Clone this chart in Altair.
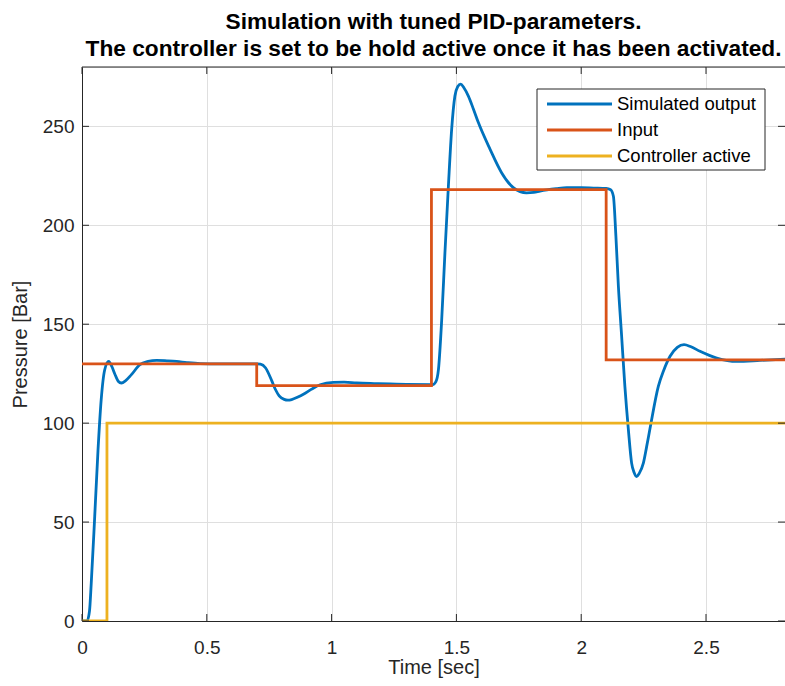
import altair as alt
import pandas as pd

# Simulated plant output (time in s, pressure in bar)
out_t = [0, 0.02, 0.03, 0.037, 0.051, 0.064, 0.077, 0.091, 0.107, 0.12, 0.131, 0.145,
         0.158, 0.175, 0.198, 0.232, 0.265, 0.299, 0.34, 0.379, 0.42, 0.473, 0.55, 0.70,
         0.715, 0.735, 0.76, 0.775, 0.79, 0.81, 0.825, 0.84, 0.865, 0.887, 0.92, 0.954,
         1.007, 1.05, 1.10, 1.17, 1.234, 1.30, 1.405, 1.418, 1.428, 1.441, 1.454, 1.468,
         1.481, 1.494, 1.505, 1.517, 1.53, 1.548, 1.568, 1.588, 1.635, 1.681, 1.728, 1.755,
         1.781, 1.81, 1.835, 1.90, 1.942, 2.0, 2.05, 2.10, 2.118, 2.129, 2.139, 2.149,
         2.162, 2.175, 2.189, 2.202, 2.212, 2.222, 2.232, 2.249, 2.262, 2.276, 2.309, 2.33,
         2.356, 2.385, 2.412, 2.44, 2.476, 2.543, 2.623, 2.716, 2.82]
out_v = [0, 0, 5, 19, 53, 86, 112, 127, 131.2, 128.5, 125, 121.2,
         120.3, 121.5, 124.5, 129.6, 131.2, 131.7, 131.5, 131.2, 130.6, 130.1, 130, 130,
         129.8, 128, 121.5, 117, 113.8, 112, 111.6, 111.9, 113.2, 114.6, 117.2, 119.4,
         120.6, 120.7, 120.3, 120, 119.8, 119.6, 119.5, 121, 127, 152, 186, 220,
         248.5, 265.3, 270, 271.3, 269.5, 265.3, 258.8, 251.9, 238.4, 226.6, 219, 217,
         216.4, 216.6, 217.3, 218.5, 219, 219, 218.8, 218.6, 218, 214.7, 194.5, 169.2,
         143.9, 118.6, 96.7, 79.8, 75, 73, 74.5, 79.8, 88, 97.5, 118.6, 126.5,
         133.8, 138.3, 139.7, 138.6, 136.3, 132.9, 131.2, 131.7, 132.4]

# Reference input (piecewise constant)
in_t = [0, 0.7, 1.4, 2.1, 2.82]
in_v = [130, 119, 218, 132, 132]

# Controller-active flag (scaled to 100)
ctl_t = [0, 0.1, 2.82]
ctl_v = [0, 100, 100]

series_names = ["Simulated output", "Input", "Controller active"]
series_colors = ["#0072BD", "#D95319", "#EDB120"]

x_ticks = [0, 0.5, 1, 1.5, 2, 2.5]
y_ticks = [0, 50, 100, 150, 200, 250]

X_MAX = 2.8165
Y_MAX = 280
W, H = 703, 554
AX = "#262626"
GRID = "#DFDFDF"
FONT = "Liberation Sans"
LW = 2.8

xs = alt.Scale(domain=[0, X_MAX], nice=False, zero=False)
ys = alt.Scale(domain=[0, Y_MAX], nice=False, zero=False)

out_df = pd.DataFrame({"t": out_t, "v": out_v})
in_df = pd.DataFrame({"t": in_t, "v": in_v})
ctl_df = pd.DataFrame({"t": ctl_t, "v": ctl_v})

x_axis = alt.Axis(values=x_ticks, format="~g", grid=True, gridColor=GRID, gridWidth=1,
                  ticks=False, domainColor=AX, domainWidth=1, labelColor=AX,
                  labelFontSize=19, labelPadding=17, labelFont=FONT, labelFlush=False,
                  title="Time [sec]", titleFontSize=20, titleFontWeight="normal",
                  titleColor=AX, titleFont=FONT, titlePadding=0)
y_axis = alt.Axis(values=y_ticks, format="d", grid=True, gridColor=GRID, gridWidth=1,
                  ticks=False, domainColor=AX, domainWidth=1, labelColor=AX,
                  labelFontSize=19, labelPadding=8, labelFont=FONT, labelFlush=False,
                  title="Pressure [Bar]", titleFontSize=20, titleFontWeight="normal",
                  titleColor=AX, titleFont=FONT, titlePadding=12)


def X(field):
    return alt.X(field, scale=xs, axis=x_axis)


def Y(field):
    return alt.Y(field, scale=ys, axis=y_axis)


output_line = alt.Chart(out_df).mark_line(
    color=series_colors[0], strokeWidth=LW, interpolate="monotone", clip=True
).encode(x=X("t:Q"), y=Y("v:Q"))

input_line = alt.Chart(in_df).mark_line(
    color=series_colors[1], strokeWidth=LW, interpolate="step-after", clip=True
).encode(x=X("t:Q"), y=Y("v:Q"))

ctl_line = alt.Chart(ctl_df).mark_line(
    color=series_colors[2], strokeWidth=LW, interpolate="step-after", clip=True
).encode(x=X("t:Q"), y=Y("v:Q"))

# Inward-pointing tick marks on all four sides, plus the top frame line
TL = 7
xt_df = pd.DataFrame({"t": x_ticks})
yt_df = pd.DataFrame({"v": y_ticks})
tick_bottom = alt.Chart(xt_df).mark_rule(color=AX, strokeWidth=1).encode(
    x=X("t:Q"), y=alt.value(H), y2=alt.value(H - TL))
tick_top = alt.Chart(xt_df).mark_rule(color=AX, strokeWidth=1).encode(
    x=X("t:Q"), y=alt.value(0), y2=alt.value(TL))
tick_left = alt.Chart(yt_df).mark_rule(color=AX, strokeWidth=1).encode(
    y=Y("v:Q"), x=alt.value(0), x2=alt.value(TL))
tick_right = alt.Chart(yt_df).mark_rule(color=AX, strokeWidth=1).encode(
    y=Y("v:Q"), x=alt.value(W), x2=alt.value(W - TL))
top_frame = alt.Chart(pd.DataFrame({"a": [0]})).mark_rule(color=AX, strokeWidth=1).encode(
    x=alt.value(0), x2=alt.value(W), y=alt.value(0))

# Legend box in the upper right
LX0, LX1, LY0, LY1 = 455, 683, 22, 103
legend_box = alt.Chart(pd.DataFrame({"a": [0]})).mark_rect(
    fill="white", stroke=AX, strokeWidth=1
).encode(x=alt.value(LX0), x2=alt.value(LX1), y=alt.value(LY0), y2=alt.value(LY1))

legend_layers = [legend_box]
for i, (name, col) in enumerate(zip(series_names, series_colors)):
    ly = 37 + 26 * i
    src = pd.DataFrame({"name": [name]})
    legend_layers.append(
        alt.Chart(src).mark_rule(color=col, strokeWidth=LW).encode(
            x=alt.value(465), x2=alt.value(530), y=alt.value(ly)))
    legend_layers.append(
        alt.Chart(src).mark_text(align="left", baseline="middle", fontSize=18.5,
                                 font=FONT, color="black").encode(
            x=alt.value(535), y=alt.value(ly), text="name:N"))

chart = alt.layer(
    output_line, input_line, ctl_line,
    tick_bottom, tick_top, tick_left, tick_right, top_frame,
    *legend_layers,
).properties(
    width=W, height=H,
    title=alt.TitleParams(
        text=["Simulation with tuned PID-parameters.",
              "The controller is set to be hold active once it has been activated."],
        fontSize=22.7, fontWeight="bold", font=FONT, color="black",
        anchor="middle", offset=6, lineHeight=27),
    autosize=alt.AutoSizeParams(type="none"),
    padding={"left": 82, "top": 67, "right": 0, "bottom": 65},
).configure_view(stroke=None).configure(font=FONT, background="white")

chart.save("out.html", embed_options={"renderer": "svg", "actions": False})
